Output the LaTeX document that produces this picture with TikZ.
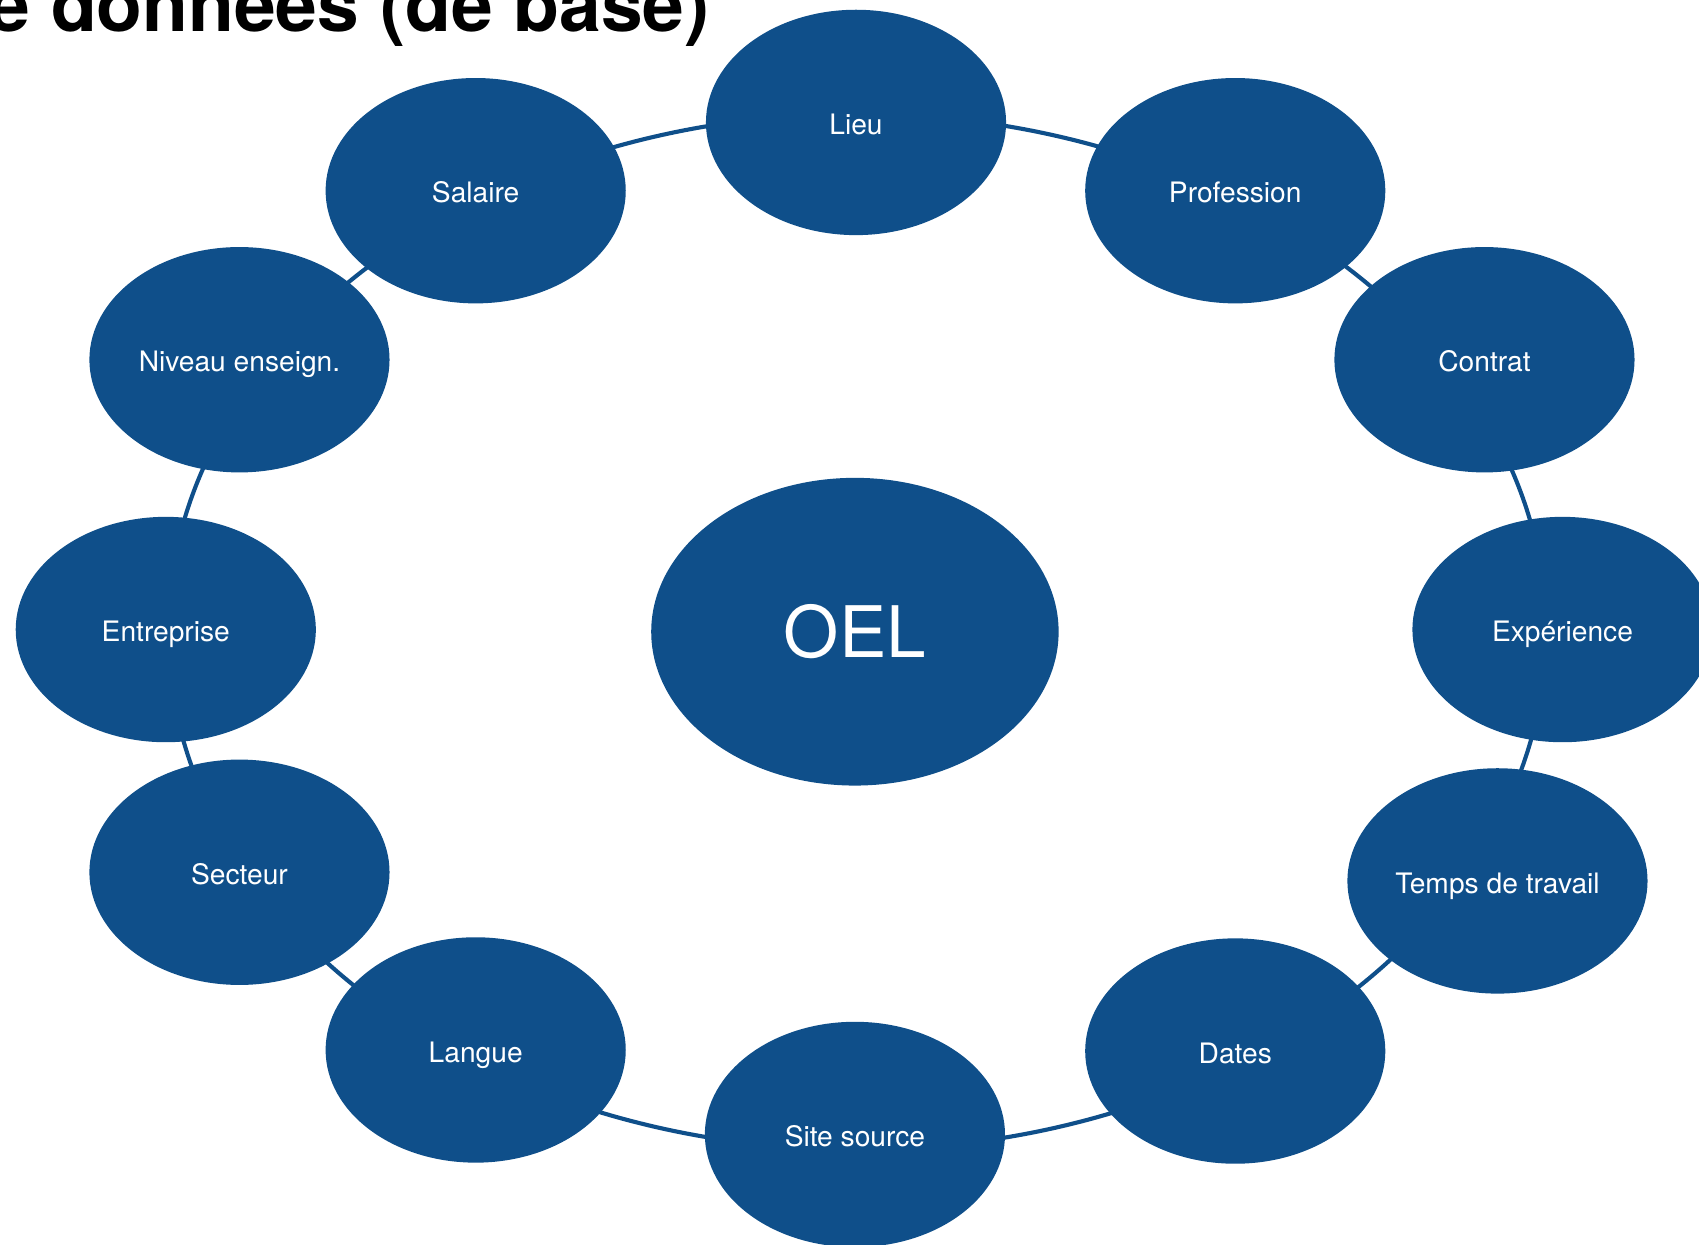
\documentclass[tikz,border=0pt]{standalone}
\usepackage{fontspec}
\setmainfont{TeX Gyre Heros}
\usetikzlibrary{shapes.geometric,backgrounds,calc}
\definecolor{oelblue}{HTML}{0F4F8A}
\tikzset{
  item/.style={ellipse,fill=oelblue,draw=none,text=white,inner sep=0pt,
    minimum width=138.5pt,minimum height=104pt,text height=14pt,text depth=2.8pt,
    font=\fontsize{13pt}{15pt}\selectfont},
  hub/.style={ellipse,fill=oelblue,draw=none,text=white,inner sep=0pt,
    minimum width=188pt,minimum height=142pt,
    font=\fontsize{32.8pt}{36pt}\selectfont},
  ring/.style={draw=oelblue,line width=1.9pt},
}
% connector: arc of the ring ellipse (centre ringc, radii 318pt x 239pt) from node #2 to node #3
\newcommand\ringlink[3][0]{%
  \draw[ring] let \p1=($(#2.center)-(ringc)$), \p2=($(#3.center)-(ringc)$),
    \n1={atan2(\y1/239,\x1/318)}, \n2={atan2(\y2/239,\x2/318)+#1} in
    ($(ringc)+(\n1:318pt and 239pt)$) arc[start angle=\n1,end angle=\n2,x radius=318pt,y radius=239pt];}
\begin{document}
\begin{tikzpicture}[x=0.5pt,y=-0.5pt]
\useasboundingbox (0,0) rectangle (1568,1149);
\node[anchor=base west,inner sep=0pt,font=\fontsize{34.6pt}{38pt}\selectfont\bfseries] (title) at (-11,29) {e données (de base)};
\coordinate (ringc) at (791,583);
\node[hub] (oel) at (789,583) {OEL};
\node[item] (lieu) at (790,113) {Lieu};
\node[item] (prof) at (1140,176) {Profession};
\node[item] (contrat) at (1370,332) {Contrat};
\node[item] (exp) at (1442,581) {Expérience};
\node[item] (temps) at (1382,813) {Temps de travail};
\node[item] (dates) at (1140,970) {Dates};
\node[item] (site) at (789,1047) {Site source};
\node[item] (langue) at (439,969) {Langue};
\node[item] (secteur) at (221,805) {Secteur};
\node[item] (entr) at (153,581) {Entreprise};
\node[item] (niveau) at (221,332) {Niveau enseign.};
\node[item] (salaire) at (439,176) {Salaire};
\begin{scope}[on background layer]
\ringlink{lieu}{prof}
\ringlink{prof}{contrat}
\ringlink{contrat}{exp}
\ringlink{exp}{temps}
\ringlink{temps}{dates}
\ringlink{dates}{site}
\ringlink{site}{langue}
\ringlink{langue}{secteur}
\ringlink[-360]{secteur}{entr}
\ringlink{entr}{niveau}
\ringlink{niveau}{salaire}
\ringlink{salaire}{lieu}
\end{scope}
\end{tikzpicture}
\end{document}
